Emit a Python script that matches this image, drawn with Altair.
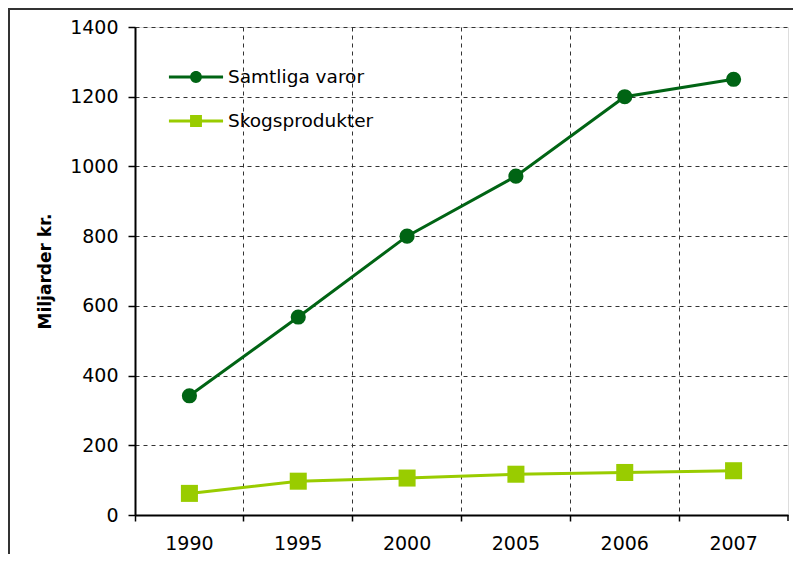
import altair as alt
import pandas as pd

years = ["1990", "1995", "2000", "2005", "2006", "2007"]
series_names = ["Samtliga varor", "Skogsprodukter"]
samtliga = [342, 568, 800, 972, 1200, 1250]
skog = [62, 97, 106, 117, 122, 127]
y_ticks = [0, 200, 400, 600, 800, 1000, 1200, 1400]
colors = ["#006414", "#99CC00"]

rows = []
for name, vals in zip(series_names, [samtliga, skog]):
    for yr, v in zip(years, vals):
        rows.append({"year": yr, "series": name, "value": v})
df = pd.DataFrame(rows)

W, H = 653, 488
FONT = "DejaVu Sans"

# legend symbols: line + marker as custom paths
p_circle = "M-1.23,-0.07H1.23V0.07H-1.23Z M0.27,0A0.27,0.27 0 1,1 -0.27,0A0.27,0.27 0 1,1 0.27,0Z"
p_square = "M-1.23,-0.07H1.23V0.07H-1.23Z M-0.27,-0.27H0.27V0.27H-0.27Z"

x_enc = alt.X(
    "year:N",
    sort=years,
    scale=alt.Scale(type="band", paddingInner=0, paddingOuter=0),
    axis=alt.Axis(
        title=None, bandPosition=0, grid=True,
        gridDash=[4, 4], gridColor="#333333", gridWidth=1,
        tickSize=6, tickColor="#000000", tickWidth=1.5,
        domainColor="#000000", domainWidth=2,
        labelFont=FONT, labelFontSize=19, labelColor="#000000",
        labelPadding=13, labelAngle=0,
    ),
)
y_enc = alt.Y(
    "value:Q",
    scale=alt.Scale(domain=[0, 1400], nice=False),
    axis=alt.Axis(
        values=y_ticks, format="d", title="Miljarder kr.", titleFont=FONT, titleFontSize=17,
        titleFontWeight="bold", titleColor="#000000", titleX=-90, titleY=H / 2,
        titleAngle=-90, titleBaseline="middle", titleAlign="center",
        grid=True, gridDash=[4, 4], gridColor="#333333", gridWidth=1,
        tickSize=7, tickColor="#000000", tickWidth=1.5,
        domainColor="#000000", domainWidth=2,
        labelFont=FONT, labelFontSize=19, labelColor="#000000", labelPadding=10,
    ),
)
color_scale = alt.Scale(domain=series_names, range=colors)

base = alt.Chart(df)

lines = base.mark_line(strokeWidth=3).encode(
    x=x_enc, y=y_enc,
    color=alt.Color("series:N", scale=color_scale, legend=None),
)

circles = base.transform_filter(alt.datum.series == series_names[0]).mark_point(
    filled=True, opacity=1, shape="circle", size=230
).encode(x=x_enc, y=y_enc, color=alt.Color("series:N", scale=color_scale, legend=None))

squares = base.transform_filter(alt.datum.series == series_names[1]).mark_point(
    filled=True, opacity=1, shape="square", size=290
).encode(x=x_enc, y=y_enc, color=alt.Color("series:N", scale=color_scale, legend=None))

leg = alt.Legend(
    title=None, orient="none", legendX=39, legendY=28, padding=0, rowPadding=12,
    symbolSize=1936, symbolStrokeWidth=0, labelFont=FONT, labelFontSize=18.5,
    labelColor="#000000", labelOffset=10, labelBaseline="middle",
)
legend_layer = base.transform_filter("false").mark_point(filled=True, opacity=1).encode(
    x=x_enc, y=y_enc,
    color=alt.Color("series:N", scale=color_scale, legend=leg),
    shape=alt.Shape("series:N", scale=alt.Scale(domain=series_names, range=[p_circle, p_square]), legend=leg),
)

frame = alt.Chart(pd.DataFrame({"a": [0]})).mark_rect(
    filled=False, stroke="#333333", strokeWidth=2
).encode(x=alt.value(-126), x2=alt.value(720), y=alt.value(-18), y2=alt.value(620))

end_tick = alt.Chart(pd.DataFrame({"a": [0]})).mark_rule(
    color="#000000", strokeWidth=1.5
).encode(x=alt.value(W), y=alt.value(H), y2=alt.value(H + 6))

chart = alt.layer(frame, lines, circles, squares, legend_layer, end_tick).resolve_scale(
    shape="independent", color="independent"
).properties(
    width=W, height=H,
    padding={"left": 127, "top": 19, "right": 5, "bottom": 39},
    autosize=alt.AutoSizeParams(type="none"),
).configure_view(
    stroke="#444444", strokeDash=[4, 4], strokeWidth=1.5
).configure(background="white")

chart.save("out.html", embed_options={"renderer": "svg", "actions": False})
